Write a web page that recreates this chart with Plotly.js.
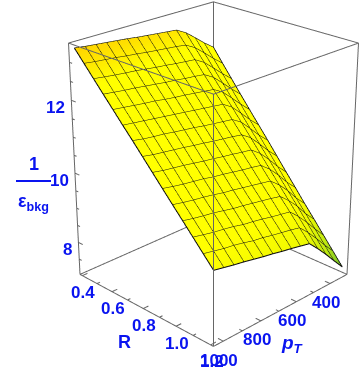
<!DOCTYPE html>
<html>
<head>
<meta charset="utf-8">
<script src="https://cdn.plot.ly/plotly-3.0.1.min.js"></script>
<style>
  html, body { margin: 0; padding: 0; width: 360px; height: 373px; overflow: hidden; background: #fff; }
  #chart { position: absolute; left: -298px; top: -348px; width: 1023px; height: 1023px; }
</style>
</head>
<body>
<div id="chart"></div>
<script>
'use strict';

const pT = [310, 362, 414, 466, 517, 569, 621, 673, 724, 776, 828, 880, 931, 983, 1035];
const R = [0.4, 0.457, 0.514, 0.571, 0.629, 0.686, 0.743, 0.8, 0.857, 0.914, 0.971, 1.029, 1.086, 1.143, 1.2];
// one list per pT value, running over R
const invEffByPT = [
  [12.25, 11.88, 11.52, 11.16, 10.80, 10.45, 10.10, 9.74, 9.38, 9.03, 8.67, 8.32, 7.97, 7.62, 7.27],
  [12.45, 12.10, 11.75, 11.40, 11.05, 10.70, 10.35, 10.00, 9.65, 9.30, 8.95, 8.60, 8.27, 7.92, 7.58],
  [12.68, 12.34, 12.00, 11.66, 11.32, 10.98, 10.64, 10.30, 9.96, 9.62, 9.28, 8.94, 8.59, 8.24, 7.90],
  [12.90, 12.57, 12.24, 11.91, 11.58, 11.25, 10.92, 10.58, 10.24, 9.90, 9.56, 9.22, 8.88, 8.54, 8.20],
  [13.05, 12.72, 12.40, 12.07, 11.74, 11.42, 11.09, 10.76, 10.44, 10.11, 9.78, 9.45, 9.13, 8.80, 8.47],
  [13.08, 12.76, 12.43, 12.11, 11.78, 11.46, 11.13, 10.81, 10.48, 10.16, 9.83, 9.51, 9.18, 8.86, 8.53],
  [13.11, 12.79, 12.46, 12.14, 11.82, 11.50, 11.17, 10.85, 10.53, 10.20, 9.88, 9.56, 9.23, 8.91, 8.59],
  [13.14, 12.82, 12.50, 12.18, 11.86, 11.54, 11.21, 10.89, 10.57, 10.25, 9.93, 9.61, 9.29, 8.96, 8.64],
  [13.17, 12.85, 12.53, 12.21, 11.89, 11.58, 11.26, 10.94, 10.62, 10.30, 9.98, 9.66, 9.34, 9.02, 8.70],
  [13.21, 12.89, 12.57, 12.25, 11.93, 11.62, 11.30, 10.98, 10.66, 10.34, 10.02, 9.70, 9.38, 9.06, 8.75],
  [13.24, 12.92, 12.61, 12.29, 11.98, 11.66, 11.34, 11.03, 10.71, 10.40, 10.08, 9.76, 9.45, 9.13, 8.81],
  [13.27, 12.96, 12.64, 12.33, 12.01, 11.70, 11.39, 11.07, 10.76, 10.44, 10.13, 9.82, 9.50, 9.19, 8.87],
  [13.30, 12.99, 12.67, 12.36, 12.05, 11.74, 11.42, 11.11, 10.80, 10.48, 10.17, 9.86, 9.54, 9.23, 8.92],
  [13.33, 13.02, 12.71, 12.40, 12.09, 11.78, 11.46, 11.15, 10.84, 10.53, 10.22, 9.91, 9.60, 9.29, 8.98],
  [13.37, 13.06, 12.75, 12.44, 12.13, 11.82, 11.52, 11.21, 10.90, 10.59, 10.28, 9.97, 9.66, 9.35, 9.04]
];

const pTRange = [295, 1050];
const RRange = [0.384, 1.216];
const zRange = [7.04, 13.5];

const pTTicks = [400, 600, 800, 1000];
const pTMinor = [500, 700, 900];
const RTicks = [0.4, 0.6, 0.8, 1.0, 1.2];
const RMinor = [0.5, 0.7, 0.9, 1.1];
const zTicks = [8, 10, 12];
const zMinor = [7.5, 8.5, 9, 9.5, 10.5, 11, 11.5, 12.5, 13];

const blue = '#0a14f0';
const fontFamily = '"Liberation Sans", Arial, sans-serif';
const labelFont = {family: fontFamily, size: 17, color: blue, weight: 'bold'};

// bounding box and tick marks, all from the axis ranges
const frame = {x: [], y: [], z: []};
function segment(a, b) {
  frame.x.push(a[0], b[0], null);
  frame.y.push(a[1], b[1], null);
  frame.z.push(a[2], b[2], null);
}
for (const px of pTRange) {
  for (const py of RRange) segment([px, py, zRange[0]], [px, py, zRange[1]]);
  for (const pz of zRange) segment([px, RRange[0], pz], [px, RRange[1], pz]);
}
for (const py of RRange) {
  for (const pz of zRange) segment([pTRange[0], py, pz], [pTRange[1], py, pz]);
}
const pTSpan = pTRange[1] - pTRange[0];
const RSpan = RRange[1] - RRange[0];
for (const [list, len] of [[pTTicks, 0.035], [pTMinor, 0.02]]) {
  for (const v of list) segment([v, RRange[1], zRange[0]], [v, RRange[1] - RSpan * len, zRange[0]]);
}
for (const [list, len] of [[RTicks, 0.035], [RMinor, 0.02]]) {
  for (const v of list) segment([pTRange[1], v, zRange[0]], [pTRange[1] - pTSpan * len, v, zRange[0]]);
}
for (const [list, len] of [[zTicks, 0.035], [zMinor, 0.02]]) {
  for (const v of list) segment([pTRange[1], RRange[0], v], [pTRange[1], RRange[0] + RSpan * len, v]);
}

const surface = {
  type: 'surface',
  x: pT,
  y: R,
  z: R.map((_, i) => invEffByPT.map(col => col[i])),
  cmin: 7.27,
  cmax: 13.37,
  colorscale: [
    [0, '#6fbf2a'],
    [0.1, '#c0ea10'],
    [0.22, '#f2fa00'],
    [0.32, '#ffff00'],
    [0.88, '#ffff00'],
    [1, '#ffd400']
  ],
  showscale: false,
  hoverinfo: 'skip',
  lighting: {ambient: 1, diffuse: 0, specular: 0, roughness: 1, fresnel: 0},
  contours: {
    x: {show: true, start: 310, end: 1035, size: 51.78, color: '#111111', width: 2},
    y: {show: true, start: 0.4, end: 1.2, size: 0.05714, color: '#111111', width: 2},
    z: {show: false}
  }
};

// black outline of the surface, walked along its four edges
const lastCol = invEffByPT.length - 1;
const lastRow = R.length - 1;
const outline = {
  type: 'scatter3d',
  mode: 'lines',
  x: [].concat(pT, R.map(() => pT[lastCol]), pT.slice().reverse(), R.map(() => pT[0])),
  y: [].concat(pT.map(() => R[0]), R, pT.map(() => R[lastRow]), R.slice().reverse()),
  z: [].concat(
    invEffByPT.map(col => col[0]),
    invEffByPT[lastCol],
    invEffByPT.map(col => col[lastRow]).reverse(),
    invEffByPT[0].slice().reverse()
  ),
  line: {color: '#000000', width: 2},
  hoverinfo: 'skip',
  showlegend: false
};

const box = {
  type: 'scatter3d',
  mode: 'lines',
  x: frame.x,
  y: frame.y,
  z: frame.z,
  line: {color: '#666666', width: 2},
  hoverinfo: 'skip',
  showlegend: false
};

function tickLabel(x, y, z, text, xanchor, xshift, yshift) {
  return {x, y, z, text, xanchor, xshift, yshift, showarrow: false, font: labelFont};
}

const sceneLabels = []
  .concat(zTicks.map(v => tickLabel(pTRange[1], RRange[0], v, String(v), 'right', -4, -7)))
  .concat(RTicks.map(v => tickLabel(pTRange[1], v, zRange[0], v.toFixed(1), 'center', 1, -17)))
  .concat(pTTicks.map(v => tickLabel(v, RRange[1], zRange[0], String(v), 'center', -4, -19)));

// the axes run a little past the drawn box, or the box edges get clipped away
const axisPad = 0.005;
const hiddenAxis = range => ({
  range: [range[0] - (range[1] - range[0]) * axisPad, range[1] + (range[1] - range[0]) * axisPad],
  autorange: false,
  showgrid: false,
  zeroline: false,
  showline: false,
  showticklabels: false,
  showbackground: false,
  showspikes: false,
  ticks: '',
  title: {text: ''}
});

const chartSize = 1023;
const chartLeft = -298;
const chartTop = -348;
const paperX = px => (px - chartLeft) / chartSize;
const paperY = py => 1 - (py - chartTop) / chartSize;

function pageText(px, py, text, size) {
  return {
    xref: 'paper', yref: 'paper', x: paperX(px), y: paperY(py), text,
    xanchor: 'center', yanchor: 'middle',
    showarrow: false,
    font: {family: fontFamily, size: size, color: blue, weight: 'bold'}
  };
}

const layout = {
  width: chartSize,
  height: chartSize,
  margin: {l: 0, r: 0, t: 0, b: 0},
  paper_bgcolor: '#fff',
  showlegend: false,
  hovermode: false,
  scene: {
    domain: {x: [0, 1], y: [0, 1]},
    aspectmode: 'manual',
    aspectratio: {x: 1 + 2 * axisPad, y: 1 + 2 * axisPad, z: 1.284 * (1 + 2 * axisPad)},
    camera: {
      eye: {x: 4.063, y: 4.063, z: 2.537},
      center: {x: 0, y: 0, z: 0},
      up: {x: 0, y: 0, z: 1},
      projection: {type: 'perspective'}
    },
    xaxis: hiddenAxis(pTRange),
    yaxis: hiddenAxis(RRange),
    zaxis: hiddenAxis(zRange),
    annotations: sceneLabels
  },
  annotations: [
    pageText(124, 342, 'R', 18),
    pageText(292, 344, '<i>p</i><sub><i>T</i></sub>', 19),
    pageText(34, 164, '1', 18),
    pageText(33, 202, 'ε<sub>bkg</sub>', 18)
  ],
  shapes: [{
    type: 'line', xref: 'paper', yref: 'paper',
    x0: paperX(16), x1: paperX(51), y0: paperY(181), y1: paperY(181),
    line: {color: blue, width: 2}
  }]
};

Plotly.newPlot('chart', [surface, outline, box], layout, {displayModeBar: false, scrollZoom: false});
</script>
</body>
</html>
